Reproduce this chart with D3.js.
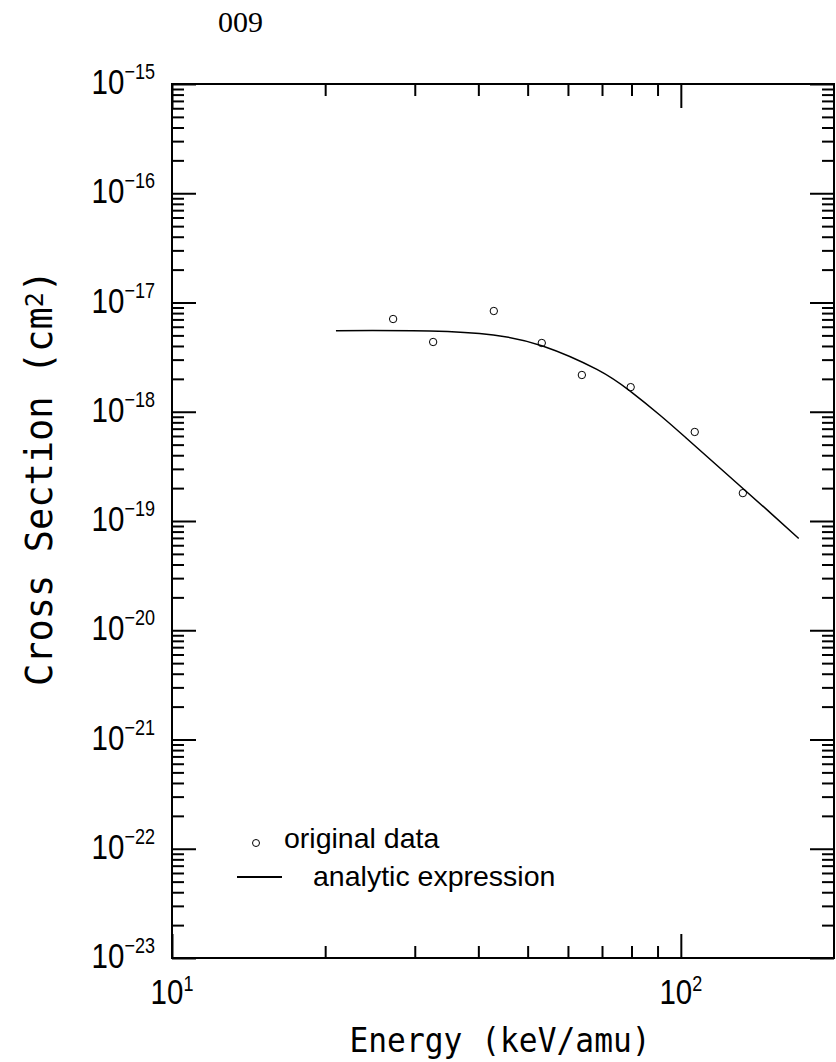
<!DOCTYPE html>
<html>
<head>
<meta charset="utf-8">
<script src="https://cdn.jsdelivr.net/npm/d3@7"></script>
<style>
  body { margin: 0; background: #fff; }
  svg { display: block; }
  .tick line { stroke: #000; stroke-width: 2; }
  .domain { display: none; }
  .lab { font-family: "Liberation Sans", Arial, sans-serif; fill: #000; }
  .title { font-family: "DejaVu Sans Mono", monospace; fill: #000; }
  .legend { font-family: "Liberation Sans", Arial, sans-serif; font-size: 28.5px; fill: #000; }
</style>
</head>
<body>
<svg id="chart"></svg>
<script>
// ---- data ----
const dataEnergy = [27.2, 32.6, 42.9, 53.3, 63.9, 79.7, 106.5, 132.4]          // keV/amu
const dataSigma  = [7.06e-18, 4.35e-18, 8.36e-18, 4.26e-18, 2.17e-18, 1.68e-18, 6.53e-19, 1.80e-19]

const fitEnergy = [21.0, 32.1, 42.8, 53.5, 68.4, 79.4, 90.9, 102.7, 128.8, 149.6, 170.5]
const fitSigma  = [5.52e-18, 5.48e-18, 5.04e-18, 4.00e-18, 2.44e-18, 1.55e-18, 9.34e-19, 5.69e-19, 2.23e-19, 1.20e-19, 6.92e-20]

const xMajor = [10, 100]
const xMajorLabels = ["1", "2"]
const yMajorExp = [-15, -16, -17, -18, -19, -20, -21, -22, -23]

const legendLabels = ["original data", "analytic expression"]

// ---- layout ----
const width = 836
const height = 1062
const plotL = 172, plotR = 834, plotT = 84, plotB = 958

const chart = d3.select('#chart')
    .attr('width', width)
    .attr('height', height)

const x = d3.scaleLog().domain([10, 200]).range([plotL, plotR])
const y = d3.scaleLog().domain([1e-23, 1e-15]).range([plotB, plotT])

// minor tick values
const xMinor = []
for (let k = 2; k <= 9; k++) xMinor.push(k * 10)
const yMajor = yMajorExp.map(e => Math.pow(10, e))
const yMinor = []
for (let e = -23; e < -15; e++) {
    for (let k = 2; k <= 9; k++) yMinor.push(k * Math.pow(10, e))
}

// draw an axis with inward ticks
function drawAxis(axisFn, scale, values, size, tx, ty) {
    chart.append('g')
        .attr('transform', `translate(${tx},${ty})`)
        .call(axisFn(scale).tickValues(values).tickSize(size).tickFormat(''))
}

drawAxis(d3.axisLeft, y, yMinor, -12, plotL, 0)
drawAxis(d3.axisLeft, y, yMajor, -24, plotL, 0)
drawAxis(d3.axisRight, y, yMinor, -12, plotR, 0)
drawAxis(d3.axisRight, y, yMajor, -24, plotR, 0)
drawAxis(d3.axisBottom, x, xMinor, -12, 0, plotB)
drawAxis(d3.axisBottom, x, xMajor, -24, 0, plotB)
drawAxis(d3.axisTop, x, xMinor, -12, 0, plotT)
drawAxis(d3.axisTop, x, xMajor, -24, 0, plotT)

// frame
chart.append('rect')
    .attr('x', plotL).attr('y', plotT)
    .attr('width', plotR - plotL).attr('height', plotB - plotT)
    .attr('fill', 'none').attr('stroke', '#000').attr('stroke-width', 2)

// power-of-ten label, squeezed horizontally to look like the narrow original font
function powLabel(tx, ty, anchor, exp, supShift) {
    const t = chart.append('text').attr('class', 'lab')
        .attr('transform', `translate(${tx},${ty}) scale(0.82,1)`)
        .attr('text-anchor', anchor)
    t.append('tspan').attr('font-size', 36).text('10')
    t.append('tspan').attr('font-size', 22).attr('dy', supShift).text(exp)
}

// y tick labels
yMajorExp.forEach(e => {
    powLabel(155, y(Math.pow(10, e)) + 10, 'end', '\u2212' + Math.abs(e), -15)
})

// x tick labels
xMajor.forEach((v, i) => {
    powLabel(x(v), 1004, 'middle', xMajorLabels[i], -13)
})

// axis titles
chart.append('text').attr('class', 'title')
    .attr('transform', 'translate(500,1052) scale(0.92,1)')
    .attr('text-anchor', 'middle')
    .attr('font-size', 34)
    .text('Energy (keV/amu)')

const yt = chart.append('text').attr('class', 'title')
    .attr('transform', 'translate(52,478) rotate(-90)')
    .attr('text-anchor', 'middle')
    .attr('font-size', 37)
yt.append('tspan').text('Cross Section (cm')
yt.append('tspan').attr('font-size', 25).attr('dy', -9).text('2')
yt.append('tspan').attr('dy', 9).text(')')

// page label
chart.append('text')
    .attr('x', 218).attr('y', 32)
    .attr('font-family', '"Liberation Serif", "Times New Roman", serif')
    .attr('font-size', 30)
    .text('009')

// analytic curve
const line = d3.line()
    .x(d => x(d.e))
    .y(d => y(d.s))
    .curve(d3.curveNatural)

chart.append('path')
    .datum(fitEnergy.map((e, i) => ({ e, s: fitSigma[i] })))
    .attr('d', line)
    .attr('fill', 'none')
    .attr('stroke', '#000')
    .attr('stroke-width', 1.5)

// data points
chart.selectAll('.pt')
    .data(dataEnergy.map((e, i) => ({ e, s: dataSigma[i] })))
    .enter().append('circle')
    .attr('class', 'pt')
    .attr('cx', d => x(d.e))
    .attr('cy', d => y(d.s))
    .attr('r', 3.7)
    .attr('fill', 'none')
    .attr('stroke', '#000')
    .attr('stroke-width', 1)

// legend
chart.append('circle')
    .attr('cx', 256).attr('cy', 843).attr('r', 3.5)
    .attr('fill', 'none').attr('stroke', '#000').attr('stroke-width', 1)
chart.append('text').attr('class', 'legend')
    .attr('x', 284).attr('y', 848).text(legendLabels[0])
chart.append('line')
    .attr('x1', 237).attr('x2', 282).attr('y1', 877).attr('y2', 877)
    .attr('stroke', '#000').attr('stroke-width', 2)
chart.append('text').attr('class', 'legend')
    .attr('x', 313).attr('y', 886).text(legendLabels[1])
</script>
</body>
</html>
